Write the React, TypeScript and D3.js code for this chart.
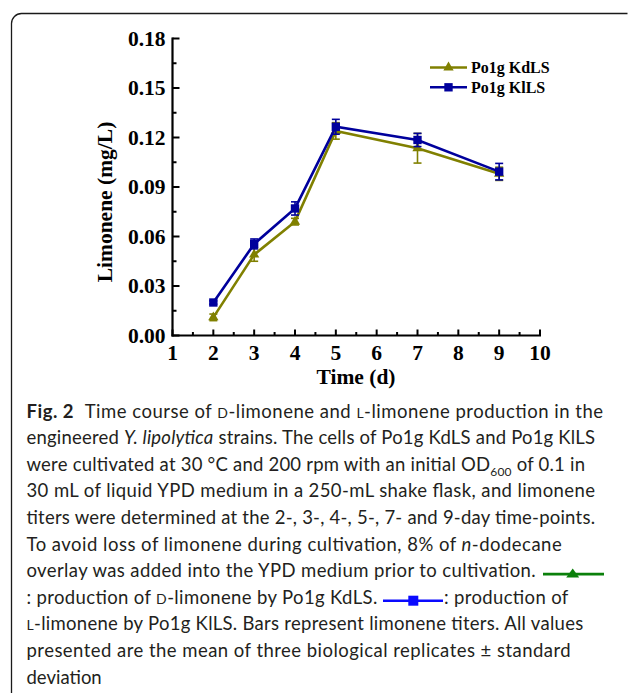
import React from "react";
import * as d3 from "d3";

const days = [2, 3, 4, 5, 7, 9];
const kdlsMean = [0.011, 0.049, 0.069, 0.124, 0.1135, 0.098];
const kdlsSd = [0.002, 0.004, 0.002, 0.005, 0.009, 0.004];
const kllsMean = [0.02, 0.0555, 0.077, 0.1265, 0.1185, 0.0993];
const kllsSd = [0.001, 0.003, 0.004, 0.0045, 0.004, 0.005];
const seriesNames = ["Po1g KdLS", "Po1g KlLS"];
const xTickValues = [1, 2, 3, 4, 5, 6, 7, 8, 9, 10];
const yTickValues = [0, 0.03, 0.06, 0.09, 0.12, 0.15, 0.18];
const xTitle = "Time (d)";
const yTitle = "Limonene (mg/L)";

const OLIVE = "#808000";
const NAVY = "#00009c";
const GREEN = "#0b800b";
const BLUE = "#0a0aff";
const INK = "#231f20";
const SERIF = "'Liberation Serif', 'Times New Roman', serif";
const SANS = "Lato, 'Open Sans', sans-serif";

export default function App() {
  const x = d3.scaleLinear().domain([1, 10]).range([172.5, 540]);
  const y = d3.scaleLinear().domain([0, 0.18]).range([335.5, 38.5]);
  const series = [
    { name: seriesNames[0], mean: kdlsMean, sd: kdlsSd, color: OLIVE, symbol: d3.symbolTriangle, size: 46 },
    { name: seriesNames[1], mean: kllsMean, sd: kllsSd, color: NAVY, symbol: d3.symbolSquare, size: 70 },
  ];
  const line = d3
    .line<number>()
    .x((_, i) => x(days[i]))
    .y((d) => y(d));
  const xMinor = d3.range(1.5, 10, 1);
  const yMinor = d3.range(0.015, 0.18, 0.03);
  const fmt = d3.format(".2f");
  const x0 = x.range()[0];
  const y0 = y.range()[0];

  const capX = 26.5;
  const b0 = 417.5;
  const lh = 26.6;
  const bl = (i: number) => b0 + i * lh;
  const sc = (t: string) => <tspan fontSize={14}>{t}</tspan>;
  const capEnd = [603, 595, 585, 595, 595, 561.7, 535.7, 377.3, 583.3, 570.7, 100];
  const tl = (i: number) => capEnd[i] - capX;

  return (
    <div style={{ position: "absolute", left: 0, top: 0 }}>
      <svg width={629} height={695} viewBox="0 0 629 695" style={{ display: "block", background: "#fff" }}>
        <rect width={629} height={695} fill="#fff" />
        {/* frame */}
        <path d="M11.5,693 V23.5 A10,10 0 0 1 21.5,13.5 H627.5" fill="none" stroke="#1a1a1a" strokeWidth={1.3} />

        {/* axes */}
        <g stroke="#000" fill="none">
          <line x1={x0} x2={x0} y1={y0 + 1} y2={y(0.18) - 1} strokeWidth={2.2} />
          <line x1={x0 - 1} x2={x(10) + 1} y1={y0} y2={y0} strokeWidth={2.2} />
          {yTickValues.map((v) => (
            <line key={"yt" + v} x1={x0} x2={x0 + 7} y1={y(v)} y2={y(v)} strokeWidth={2} />
          ))}
          {yMinor.map((v) => (
            <line key={"ym" + v} x1={x0} x2={x0 + 4} y1={y(v)} y2={y(v)} strokeWidth={2} />
          ))}
          {xTickValues.map((v) => (
            <line key={"xt" + v} x1={x(v)} x2={x(v)} y1={y0} y2={y0 - 6} strokeWidth={2} />
          ))}
          {xMinor.map((v) => (
            <line key={"xm" + v} x1={x(v)} x2={x(v)} y1={y0} y2={y0 - 3.5} strokeWidth={2} />
          ))}
        </g>
        <g fontFamily={SERIF} fontWeight="bold" fontSize={21.5} fill="#000">
          {yTickValues.map((v) => (
            <text key={"yl" + v} x={x0 - 7} y={y(v)} dy="0.34em" textAnchor="end">
              {fmt(v)}
            </text>
          ))}
          {xTickValues.map((v) => (
            <text key={"xl" + v} x={x(v)} y={360} textAnchor="middle">
              {v}
            </text>
          ))}
          <text x={356} y={384} textAnchor="middle">
            {xTitle}
          </text>
          <text transform="translate(112,202) rotate(-90)" textAnchor="middle">
            {yTitle}
          </text>
        </g>

        {/* series */}
        {series.map((s) => (
          <g key={s.name}>
            <path d={line(s.mean) || ""} fill="none" stroke={s.color} strokeWidth={2.6} />
            {s.mean.map((m, i) => {
              const cx = x(days[i]);
              const top = y(m + s.sd[i]);
              const bot = y(m - s.sd[i]);
              return (
                <g key={i} stroke={s.color} strokeWidth={1.6}>
                  <line x1={cx} x2={cx} y1={top} y2={bot} />
                  <line x1={cx - 4} x2={cx + 4} y1={top} y2={top} />
                  <line x1={cx - 4} x2={cx + 4} y1={bot} y2={bot} />
                </g>
              );
            })}
            {s.mean.map((m, i) => (
              <path
                key={"m" + i}
                d={d3.symbol(s.symbol, s.size)() || ""}
                transform={`translate(${x(days[i])},${y(m)})`}
                fill={s.color}
              />
            ))}
          </g>
        ))}

        {/* legend */}
        {series.map((s, i) => {
          const ly = 67.5 + i * 19.8;
          return (
            <g key={"lg" + i}>
              <line x1={430} x2={467} y1={ly} y2={ly} stroke={s.color} strokeWidth={2.6} />
              <path d={d3.symbol(s.symbol, s.size)() || ""} transform={`translate(448.5,${ly})`} fill={s.color} />
              <text x={471} y={ly + 5.3} fontFamily={SERIF} fontWeight="bold" fontSize={16} fill="#000">
                {s.name}
              </text>
            </g>
          );
        })}

        {/* caption */}
        <g fontFamily={SANS} fontSize={18.5} fill={INK}>
          <text x={capX} y={bl(0)} textLength={tl(0)} lengthAdjust="spacing">
            <tspan fontWeight="bold">Fig. 2</tspan>
            <tspan dx={6}> Time course of </tspan>
            {sc("D")}
            <tspan>-limonene and </tspan>
            {sc("L")}
            <tspan>-limonene production in the</tspan>
          </text>
          <text x={capX} y={bl(1)} textLength={tl(1)} lengthAdjust="spacing">
            engineered <tspan fontStyle="italic">Y. lipolytica</tspan> strains. The cells of Po1g KdLS and Po1g KlLS
          </text>
          <text x={capX} y={bl(2)} textLength={tl(2)} lengthAdjust="spacing">
            <tspan>were cultivated at 30 °C and 200 rpm with an initial OD</tspan>
            <tspan fontSize={12} dy={5}>600</tspan>
            <tspan dy={-5}> of 0.1 in</tspan>
          </text>
          <text x={capX} y={bl(3)} textLength={tl(3)} lengthAdjust="spacing">
            30 mL of liquid YPD medium in a 250-mL shake flask, and limonene
          </text>
          <text x={capX} y={bl(4)} textLength={tl(4)} lengthAdjust="spacing">
            titers were determined at the 2-, 3-, 4-, 5-, 7- and 9-day time-points.
          </text>
          <text x={capX} y={bl(5)} textLength={tl(5)} lengthAdjust="spacing">
            To avoid loss of limonene during cultivation, 8% of <tspan fontStyle="italic">n</tspan>-dodecane
          </text>
          <text x={capX} y={bl(6)} textLength={tl(6)} lengthAdjust="spacing">
            overlay was added into the YPD medium prior to cultivation.
          </text>
          <text x={capX} y={bl(7)} textLength={tl(7)} lengthAdjust="spacing">
            <tspan>: production of </tspan>
            {sc("D")}
            <tspan>-limonene by Po1g KdLS.</tspan>
          </text>
          <text x={444} y={bl(7)} textLength={124.3} lengthAdjust="spacing">
            : production of
          </text>
          <text x={capX} y={bl(8)} textLength={tl(8)} lengthAdjust="spacing">
            {sc("L")}
            <tspan>-limonene by Po1g KlLS. Bars represent limonene titers. All values</tspan>
          </text>
          <text x={capX} y={bl(9)} textLength={tl(9)} lengthAdjust="spacing">
            presented are the mean of three biological replicates ± standard
          </text>
          <text x={capX} y={bl(10)}>deviation</text>
        </g>
        {/* inline legend glyphs in caption */}
        <g>
          <line x1={543} x2={604} y1={bl(6) - 3} y2={bl(6) - 3} stroke={GREEN} strokeWidth={2.6} />
          <path
            d={`M566.2,${bl(6) + 0.5} L579.2,${bl(6) + 0.5} L572.7,${bl(6) - 8.5} Z`}
            fill={GREEN}
          />
          <line x1={383} x2={443} y1={bl(7) - 3} y2={bl(7) - 3} stroke={BLUE} strokeWidth={2.6} />
          <rect x={408.3} y={bl(7) - 8} width={10} height={10} fill={BLUE} />
        </g>
      </svg>
    </div>
  );
}
